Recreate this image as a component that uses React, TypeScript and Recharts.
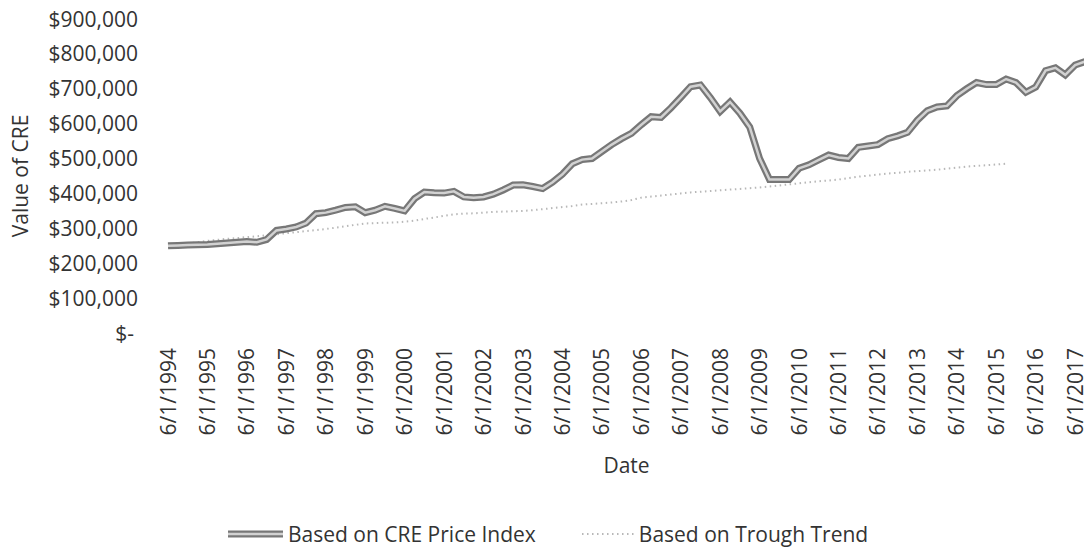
import { LineChart, Line, XAxis, YAxis, Legend } from "recharts";

// quarterly observations, 6/1/1994 .. 9/1/2017
const dates = [
  "6/1/1994", "9/1/1994", "12/1/1994",
  "3/1/1995", "6/1/1995", "9/1/1995", "12/1/1995",
  "3/1/1996", "6/1/1996", "9/1/1996", "12/1/1996",
  "3/1/1997", "6/1/1997", "9/1/1997", "12/1/1997",
  "3/1/1998", "6/1/1998", "9/1/1998", "12/1/1998",
  "3/1/1999", "6/1/1999", "9/1/1999", "12/1/1999",
  "3/1/2000", "6/1/2000", "9/1/2000", "12/1/2000",
  "3/1/2001", "6/1/2001", "9/1/2001", "12/1/2001",
  "3/1/2002", "6/1/2002", "9/1/2002", "12/1/2002",
  "3/1/2003", "6/1/2003", "9/1/2003", "12/1/2003",
  "3/1/2004", "6/1/2004", "9/1/2004", "12/1/2004",
  "3/1/2005", "6/1/2005", "9/1/2005", "12/1/2005",
  "3/1/2006", "6/1/2006", "9/1/2006", "12/1/2006",
  "3/1/2007", "6/1/2007", "9/1/2007", "12/1/2007",
  "3/1/2008", "6/1/2008", "9/1/2008", "12/1/2008",
  "3/1/2009", "6/1/2009", "9/1/2009", "12/1/2009",
  "3/1/2010", "6/1/2010", "9/1/2010", "12/1/2010",
  "3/1/2011", "6/1/2011", "9/1/2011", "12/1/2011",
  "3/1/2012", "6/1/2012", "9/1/2012", "12/1/2012",
  "3/1/2013", "6/1/2013", "9/1/2013", "12/1/2013",
  "3/1/2014", "6/1/2014", "9/1/2014", "12/1/2014",
  "3/1/2015", "6/1/2015", "9/1/2015", "12/1/2015",
  "3/1/2016", "6/1/2016", "9/1/2016", "12/1/2016",
  "3/1/2017", "6/1/2017", "9/1/2017",
];

// Based on CRE Price Index (thousands of $)
const priceIndexK = [
  250, 251, 252, 253, 254, 256, 258, 260, 262, 260,
  268, 294, 298, 304, 315, 342, 345, 352, 360, 362,
  345, 352, 363, 357, 350, 385, 404, 402, 401, 406,
  390, 388, 390, 398, 410, 424, 425, 420, 414, 432,
  455, 485, 497, 500, 520, 540, 557, 572, 597, 620,
  618, 645, 675, 706, 711, 675, 635, 662, 630, 590,
  500, 440, 440, 440, 472, 482, 496, 510, 503, 500,
  532, 536, 540, 557, 565, 575, 610, 637, 648, 651,
  680, 700, 718, 712, 712, 728, 718, 690, 705, 752,
  760, 740, 768, 778,
];

// Based on Trough Trend (thousands of $), stops in 2015
const troughTrendK = [
  253, 255, 257, 260, 264, 267, 270, 272, 275, 277,
  280, 283, 286, 289, 292, 295, 298, 302, 306, 310,
  314, 315, 316, 317, 319, 322, 327, 331, 336, 340,
  342, 343, 345, 347, 348, 349, 350, 352, 355, 358,
  361, 364, 368, 370, 372, 374, 377, 381, 388, 391,
  394, 397, 400, 403, 405, 407, 409, 411, 413, 415,
  417, 420, 423, 426, 429, 432, 435, 437, 440, 444,
  448, 451, 454, 457, 459, 462, 464, 466, 468, 471,
  474, 477, 479, 481, 483, 485,
];

const yTicks = [0, 100000, 200000, 300000, 400000, 500000, 600000, 700000, 800000, 900000];

const FONT = '"Open Sans", sans-serif';
const TEXT = "#333";
const FS = 21;

const data = dates.map((date, i) => ({
  date,
  index: priceIndexK[i] * 1000,
  trough: troughTrendK[i] != null ? troughTrendK[i] * 1000 : null,
}));

const money = (v: number) => (v === 0 ? "$-" : "$" + v.toLocaleString("en-US"));

const YTick = ({ x, y, payload }: any) => (
  <text
    x={payload.value === 0 ? x - 4 : x}
    y={y}
    dy="0.36em"
    textAnchor="end"
    fill={TEXT}
    fontFamily={FONT}
    fontSize={FS}
  >
    {money(payload.value)}
  </text>
);

const XTick = ({ x, y, payload }: any) => (
  <text
    x={x}
    y={y}
    dy="0.36em"
    textAnchor="end"
    transform={`rotate(-90, ${x}, ${y})`}
    fill={TEXT}
    fontFamily={FONT}
    fontSize={FS}
  >
    {payload.value}
  </text>
);

const DateTitle = ({ viewBox }: any) => {
  const cx = viewBox.x + viewBox.width / 2;
  const cy = viewBox.y + 132;
  return (
    <text x={cx} y={cy} dy="0.36em" textAnchor="middle" fill={TEXT} fontFamily={FONT} fontSize={FS}>
      Date
    </text>
  );
};

const ValueTitle = ({ viewBox }: any) => {
  const cx = 20;
  const cy = viewBox.y + viewBox.height / 2;
  return (
    <text
      x={cx}
      y={cy}
      dy="0.36em"
      textAnchor="middle"
      transform={`rotate(-90, ${cx}, ${cy})`}
      fill={TEXT}
      fontFamily={FONT}
      fontSize={FS}
    >
      Value of CRE
    </text>
  );
};

const renderLegend = () => (
  <div
    style={{
      display: "flex",
      alignItems: "center",
      height: 24,
      paddingLeft: 228,
      fontFamily: FONT,
      fontSize: FS,
      color: TEXT,
      lineHeight: "24px",
      whiteSpace: "nowrap",
    }}
  >
    <svg width={55} height={10}>
      <line x1={0} y1={5} x2={55} y2={5} stroke="#777" strokeWidth={7} />
      <line x1={0} y1={5} x2={55} y2={5} stroke="#d2d2d2" strokeWidth={2.5} />
    </svg>
    <span style={{ marginLeft: 5 }}>Based on CRE Price Index</span>
    <svg width={54} height={10} style={{ marginLeft: 46 }}>
      <line x1={0} y1={5} x2={54} y2={5} stroke="#b8b8b8" strokeWidth={2} strokeDasharray="1.5 3.5" />
    </svg>
    <span style={{ marginLeft: 3 }}>Based on Trough Trend</span>
  </div>
);

export default function App() {
  return (
    <div
      style={{
        position: "absolute",
        left: 0,
        top: 0,
        width: 1084,
        height: 548,
        overflow: "hidden",
        background: "#fff",
      }}
    >
      <LineChart width={1100} height={548} data={data} margin={{ top: 19, right: 15, bottom: 2, left: 0 }}>
        <XAxis
          dataKey="date"
          interval={3}
          height={189}
          axisLine={false}
          tickLine={false}
          tickSize={0}
          tickMargin={15}
          tick={<XTick />}
          label={<DateTitle />}
        />
        <YAxis
          width={168}
          domain={[0, 900000]}
          ticks={yTicks}
          axisLine={false}
          tickLine={false}
          tickSize={0}
          tickMargin={30}
          tick={<YTick />}
          label={<ValueTitle />}
        />
        <Legend
          verticalAlign="bottom"
          content={renderLegend}
          wrapperStyle={{ left: 0, width: 1084 }}
        />
        <Line
          dataKey="trough"
          stroke="#b8b8b8"
          strokeWidth={2}
          strokeDasharray="1.5 3.5"
          dot={false}
          activeDot={false}
          isAnimationActive={false}
        />
        <Line
          dataKey="index"
          stroke="#777"
          strokeWidth={7}
          dot={false}
          activeDot={false}
          isAnimationActive={false}
        />
        <Line
          dataKey="index"
          stroke="#d2d2d2"
          strokeWidth={2.5}
          dot={false}
          activeDot={false}
          legendType="none"
          isAnimationActive={false}
        />
      </LineChart>
    </div>
  );
}
